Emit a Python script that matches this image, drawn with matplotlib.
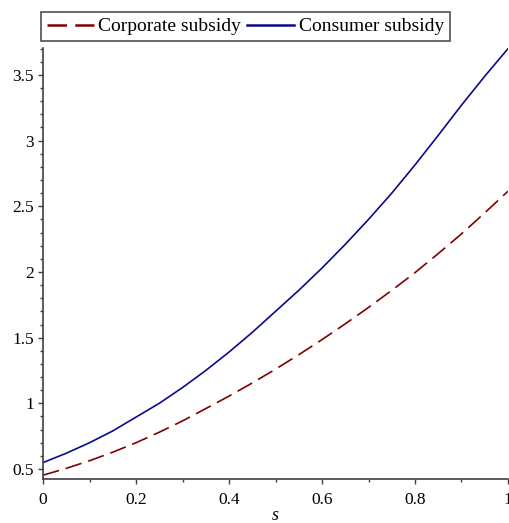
import matplotlib
matplotlib.use("Agg")
import matplotlib.pyplot as plt
from matplotlib.lines import Line2D
from matplotlib.ticker import MultipleLocator, FuncFormatter

plt.rcParams['font.family'] = ['Liberation Serif', 'DejaVu Serif']
plt.rcParams['lines.scale_dashes'] = False

s_values = [0.0, 0.05, 0.1, 0.15, 0.2, 0.25, 0.3, 0.35, 0.4, 0.45, 0.5,
            0.55, 0.6, 0.65, 0.7, 0.75, 0.8, 0.85, 0.9, 0.95, 1.0]
corporate = [0.453, 0.505, 0.563, 0.628, 0.70, 0.78, 0.866, 0.96, 1.055, 1.155, 1.26,
             1.37, 1.485, 1.605, 1.73, 1.86, 1.995, 2.14, 2.29, 2.45, 2.615]
consumer = [0.549, 0.62, 0.70, 0.79, 0.895, 1.00, 1.12, 1.25, 1.39, 1.54, 1.70,
            1.86, 2.03, 2.21, 2.40, 2.60, 2.815, 3.04, 3.27, 3.49, 3.70]
series_names = ["Corporate subsidy", "Consumer subsidy"]
x_label = "s"

red = '#800000'
blue = '#0a0a8a'
axcol = '#404040'

fig = plt.figure(figsize=(5.09, 5.23), dpi=100)
ax = fig.add_axes([43/509, 1-479/523, 465/509, (479-48)/523])

ax.plot(s_values, corporate, color=red, lw=1.2, dashes=(12, 5))
ax.plot(s_values, consumer, color=blue, lw=1.2)

ax.set_xlim(0, 1)
ax.set_ylim(0.424, 3.705)
for sp in ['top', 'right']:
    ax.spines[sp].set_visible(False)
for sp in ['left', 'bottom']:
    ax.spines[sp].set_color(axcol)
    ax.spines[sp].set_linewidth(1.2)

ax.xaxis.set_major_locator(MultipleLocator(0.2))
ax.xaxis.set_minor_locator(MultipleLocator(0.1))
ax.yaxis.set_major_locator(MultipleLocator(0.5))
ax.yaxis.set_minor_locator(MultipleLocator(0.1))

def fmt(v, pos):
    r = round(v, 1)
    if abs(r - round(r)) < 1e-9:
        return str(int(round(r)))
    return ('%.1f' % r)

ax.xaxis.set_major_formatter(FuncFormatter(fmt))
ax.yaxis.set_major_formatter(FuncFormatter(fmt))
ax.tick_params(which='major', length=3.5, width=1.0, color=axcol, labelsize=12.5, direction='out', pad=3)
ax.tick_params(which='minor', length=2.5, width=1.0, color=axcol, direction='out')
ax.tick_params(axis='x', which='major', pad=6)

ax.set_xlabel(x_label, fontstyle='italic', fontsize=13, labelpad=-1)

handles = [Line2D([], [], color=red, lw=1.8, dashes=(14, 6)),
           Line2D([], [], color=blue, lw=1.8)]
leg = fig.legend(handles, series_names, loc='upper left', bbox_to_anchor=(41/509, 1-12/523),
                 ncol=2, frameon=True, fancybox=False, fontsize=14, handlelength=2.4,
                 handletextpad=0.25, columnspacing=0.3, borderpad=0.3, borderaxespad=0)
leg.get_frame().set_edgecolor('#222222')
leg.get_frame().set_linewidth(1.2)

fig.savefig('out.png', dpi=100)
